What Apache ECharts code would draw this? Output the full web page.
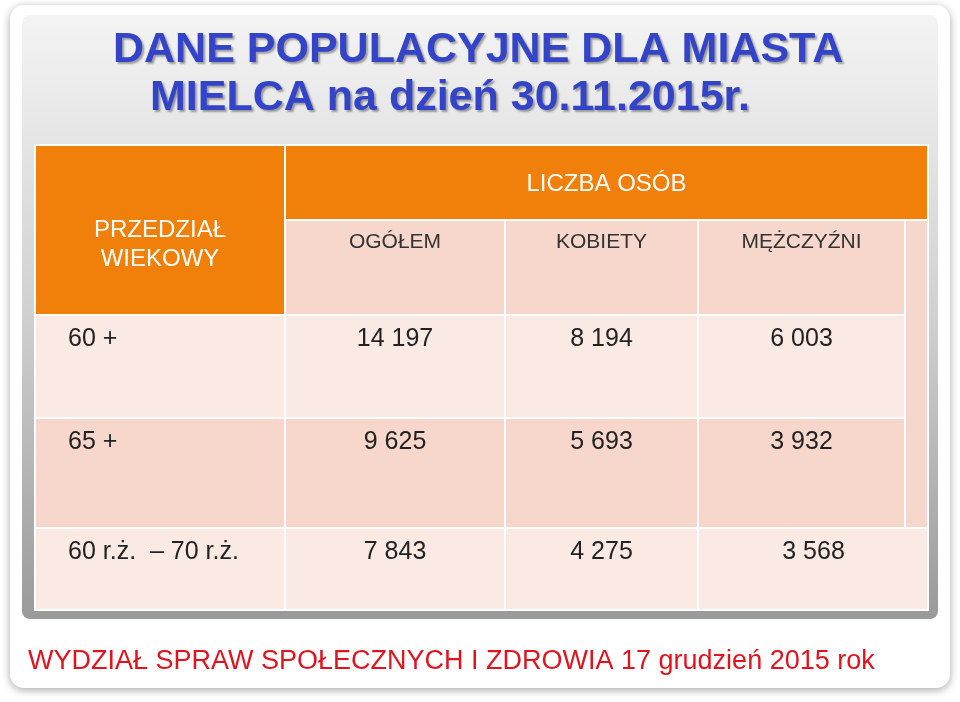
<!DOCTYPE html>
<html><head><meta charset="utf-8">
<script src="https://cdn.jsdelivr.net/npm/echarts@6/dist/echarts.min.js"></script>
<style>html,body{margin:0;padding:0;background:#fff}#main{width:960px;height:702px}</style>
</head><body><div id="main"></div>
<script>
var titleLines = ["DANE POPULACYJNE DLA MIASTA", "MIELCA na dzień 30.11.2015r."];
var groupHeader = "LICZBA OSÓB";
var labelHeader = "PRZEDZIAŁ\nWIEKOWY";
var columns = ["OGÓŁEM", "KOBIETY", "MĘŻCZYŹNI"];
var rowLabels = ["60 +", "65 +", "60 r.ż.  \u2013 70 r.ż."];
var totalValues = ["14 197", "9 625", "7 843"];
var womenValues = ["8 194", "5 693", "4 275"];
var menValues = ["6 003", "3 932", "3 568"];
var footer = "WYDZIAŁ SPRAW SPOŁECZNYCH I ZDROWIA 17 grudzień 2015 rok";

var colX = [35, 285, 505, 698, 905, 928];
var rowY = [145, 220, 315, 418, 528, 610];
var rowFill = ["#fbe9e3", "#f7d7cb", "#fbe9e3"];
var g = [];
var font = "Arial, Liberation Sans, sans-serif";

g.push({type: "rect", shape: {x: 10, y: 5, width: 940, height: 683, r: 14},
  style: {fill: "#fff", shadowBlur: 8, shadowColor: "rgba(0,0,0,0.35)", shadowOffsetY: 2}});
g.push({type: "rect", shape: {x: 22, y: 15, width: 916, height: 604, r: 8},
  style: {fill: new echarts.graphic.LinearGradient(0, 0, 0, 1, [
    {offset: 0, color: "#f4f4f4"}, {offset: 0.5, color: "#d0d0d0"}, {offset: 1, color: "#9a9a9a"}])}});
titleLines.forEach(function (t, i) {
  g.push({type: "text", x: 113 + i * 37, y: 29 + i * 48, style: {text: t, fill: "#3344c8",
    font: "bold 43px " + font, textShadowColor: "rgba(0,0,0,0.35)", textShadowBlur: 2, textShadowOffsetX: 2, textShadowOffsetY: 2}});
});

function cell(x0, y0, x1, y1, fill) {
  g.push({type: "rect", shape: {x: x0, y: y0, width: x1 - x0, height: y1 - y0},
    style: {fill: fill, stroke: "#fff", lineWidth: 2}});
}
function txt(s, cx, y, color, size, align) {
  g.push({type: "text", x: cx, y: y, style: {text: s, fill: color, font: size + "px " + font,
    align: align || "center", verticalAlign: "top", lineHeight: size * 1.2}});
}
// headers
cell(colX[0], rowY[0], colX[1], rowY[2], "#f0800a");
txt(labelHeader, (colX[0] + colX[1]) / 2, 216, "#fff", 24);
cell(colX[1], rowY[0], colX[5], rowY[1], "#f0800a");
txt(groupHeader, (colX[1] + colX[5]) / 2, 170, "#fff", 24);
columns.forEach(function (c, i) {
  cell(colX[i + 1], rowY[1], colX[i + 2], rowY[2], "#f7d7cb");
  txt(c, (colX[i + 1] + colX[i + 2]) / 2, 230, "#333", 21);
});
cell(colX[4], rowY[1], colX[5], rowY[4], "#f7d7cb");
// data rows
rowLabels.forEach(function (lab, r) {
  var vals = [lab, totalValues[r], womenValues[r], menValues[r]];
  var last = r === rowLabels.length - 1;
  vals.forEach(function (v, c) {
    var x1 = (last && c === 3) ? colX[5] : colX[c + 1];
    cell(colX[c], rowY[r + 2], x1, rowY[r + 3], rowFill[r]);
    var cx = c === 0 ? colX[0] + 33 : (colX[c] + colX[c + 1]) / 2 + (last && c === 3 ? 12 : 0);
    txt(v, cx, rowY[r + 2] + 9, "#222", 25, c === 0 ? "left" : "center");
  });
});
txt(footer, 28, 645, "#e0141e", 27, "left");

var chart = echarts.init(document.getElementById("main"));
chart.setOption({animation: false, graphic: g});
</script></body></html>
